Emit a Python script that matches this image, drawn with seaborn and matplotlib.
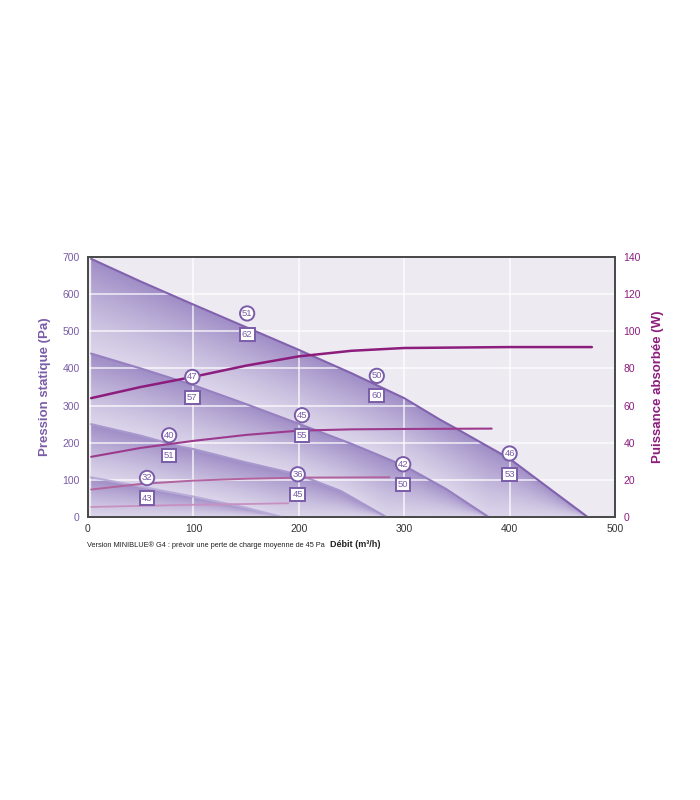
import numpy as np
import pandas as pd
import seaborn as sns
import matplotlib.pyplot as plt
from matplotlib.colors import to_rgb
from matplotlib.patches import Polygon

# pressure curves (debit m3/h -> Pa)
flow_p1 = [3, 50, 100, 150, 200, 250, 300, 334, 350, 400, 440, 474]
pres_p1 = [695, 634, 572, 511, 450, 387, 320, 262, 237, 157, 72, 0]
flow_p2 = [3, 50, 100, 150, 200, 250, 300, 340, 380]
pres_p2 = [440, 400, 355, 304, 251, 197, 138, 75, 0]
flow_p3 = [3, 50, 87, 100, 150, 200, 240, 283]
pres_p3 = [250, 219, 190, 183, 147, 114, 70, 0]
flow_p4 = [3, 50, 100, 150, 184]
pres_p4 = [107, 82, 55, 25, 0]

# absorbed power curves (debit m3/h -> W)
flow_w1 = [3, 50, 100, 150, 200, 250, 300, 400, 478]
watt_w1 = [64, 70, 75.5, 81.5, 86.5, 89.5, 91, 91.5, 91.5]
flow_w2 = [3, 50, 100, 150, 200, 250, 300, 383]
watt_w2 = [32.4, 37.2, 41, 44.2, 46.5, 47.2, 47.4, 47.6]
flow_w3 = [3, 50, 100, 150, 200, 286]
watt_w3 = [14.8, 17.8, 19.6, 20.6, 21.2, 21.4]
flow_w4 = [3, 50, 100, 150, 190]
watt_w4 = [5.4, 6, 6.6, 7, 7.4]

# acoustic labels: circle (top) and box (below), position in m3/h and Pa
lab_flow = [151, 99, 77, 56, 203, 199, 274, 299, 400]
circle_pa = [548, 377, 220, 105, 274, 115, 380, 142, 171]
circle_txt = ["51", "47", "40", "32", "45", "36", "50", "42", "46"]
box_pa = [491, 321, 166, 51, 220, 61, 326, 88, 115]
box_txt = ["62", "57", "51", "43", "55", "45", "60", "50", "53"]

x_ticks = [0, 100, 200, 300, 400, 500]
y_ticks = [0, 100, 200, 300, 400, 500, 600, 700]
w_ticks = [0, 20, 40, 60, 80, 100, 120, 140]

PURPLE = "#7a5ca8"
MAGENTA = "#8c1d7d"
FRAME = "#4a4a4a"

sns.set_theme(style="white")
plt.rcParams['font.family'] = ['Liberation Sans', 'DejaVu Sans']

fig = plt.figure(figsize=(7, 8), dpi=100)
ax = fig.add_axes([0.1257, 0.35375, 0.7529, 0.325])
ax.set_facecolor("#edeaf2")
ax.set_xlim(0, 500)
ax.set_ylim(0, 700)

# gradient bands between the pressure curves, each clipped to its outline
gx, gy = np.meshgrid(np.linspace(0, 500, 1100), np.linspace(0, 700, 600))
dark = np.array(to_rgb("#9f8dc6"))
light = np.array(to_rgb("#e6e1f0"))
curves = [(flow_p1, pres_p1), (flow_p2, pres_p2), (flow_p3, pres_p3), (flow_p4, pres_p4)]
for i, (fx, fy) in enumerate(curves):
    up = np.interp(gx, fx, fy, left=fy[0], right=0)
    verts = list(zip(fx, fy))
    if i + 1 < len(curves):
        lx, ly = curves[i + 1]
        lo = np.interp(gx, lx, ly, left=ly[0], right=0)
        verts += list(zip(lx, ly))[::-1]
    else:
        lo = np.zeros_like(gx)
        verts += [(fx[0], 0)]
    span = np.where(up - lo > 1, up - lo, 1)
    t = np.clip((gy - lo) / span, 0, 1)
    d = (0.15 + 0.85 * t ** 1.2)[..., None]
    img = light * (1 - d) + dark * d
    im = ax.imshow(img, extent=[0, 500, 0, 700], origin="lower", aspect="auto",
                   interpolation="nearest", zorder=0)
    poly = Polygon(verts, closed=True, fc="none", ec="none", transform=ax.transData)
    ax.add_patch(poly)
    im.set_clip_path(poly)

ax.set_xticks(x_ticks)
ax.set_yticks(y_ticks)
ax.set_axisbelow('line')
ax.grid(True, color="white", lw=1.3, alpha=0.7)

p_colors = ["#8262ae", "#9680c0", "#a898cd", "#b9acd8"]
for (fx, fy), col in zip(curves, p_colors):
    sns.lineplot(x=fx, y=fy, ax=ax, color=col, lw=1.5, zorder=3)

ax.set_xlim(0, 500)
ax.set_ylim(0, 700)
ax.tick_params(length=0, labelsize=7.5, pad=6)
ax.tick_params(axis="y", labelcolor=PURPLE)
ax.tick_params(axis="x", labelcolor="#333333", pad=5)
ax.set_ylabel("Pression statique (Pa)", color=PURPLE, fontsize=9.5,
              fontweight="bold", labelpad=8)
ax.set_xlabel("")

ax2 = ax.twinx()
ax2.set_ylim(0, 140)
ax2.set_yticks(w_ticks)
power = [(flow_w1, watt_w1), (flow_w2, watt_w2), (flow_w3, watt_w3), (flow_w4, watt_w4)]
w_colors = [MAGENTA, "#9c3b8e", "#b2649f", "#c890c0"]
w_widths = [1.8, 1.5, 1.4, 1.3]
for (fx, fy), col, lw in zip(power, w_colors, w_widths):
    sns.lineplot(x=fx, y=fy, ax=ax2, color=col, lw=lw)
ax2.set_ylim(0, 140)
ax2.set_xlim(0, 500)
ax2.tick_params(length=0, labelsize=7.5, labelcolor=MAGENTA, pad=6)
ax2.set_ylabel("Puissance absorbée (W)", color=MAGENTA, fontsize=9.5,
               fontweight="bold", labelpad=8)

for a in (ax, ax2):
    for s in a.spines.values():
        s.set_color(FRAME)
        s.set_linewidth(1.3)

for x, yc, tc, yb, tb in zip(lab_flow, circle_pa, circle_txt, box_pa, box_txt):
    ax2.text(x, yc, tc, transform=ax.transData, ha="center", va="center",
             fontsize=6.8, color=PURPLE, zorder=6,
             bbox=dict(boxstyle="circle,pad=0.2", fc="white", ec=PURPLE, lw=1.4))
    ax2.text(x, yb, tb, transform=ax.transData, ha="center", va="center",
             fontsize=6.8, color=PURPLE, zorder=6,
             bbox=dict(boxstyle="square,pad=0.22", fc="white", ec=PURPLE, lw=1.4))

fig.text(0.124, 0.319, "Version MINIBLUE\u00ae G4 : prévoir une perte de charge moyenne de 45 Pa",
         fontsize=5.3, color="#222222", va="center")
fig.text(0.472, 0.319, "Débit (m\u00b3/h)", fontsize=6.5, fontweight="bold",
         color="#222222", va="center")

fig.savefig("out.png", dpi=100)
